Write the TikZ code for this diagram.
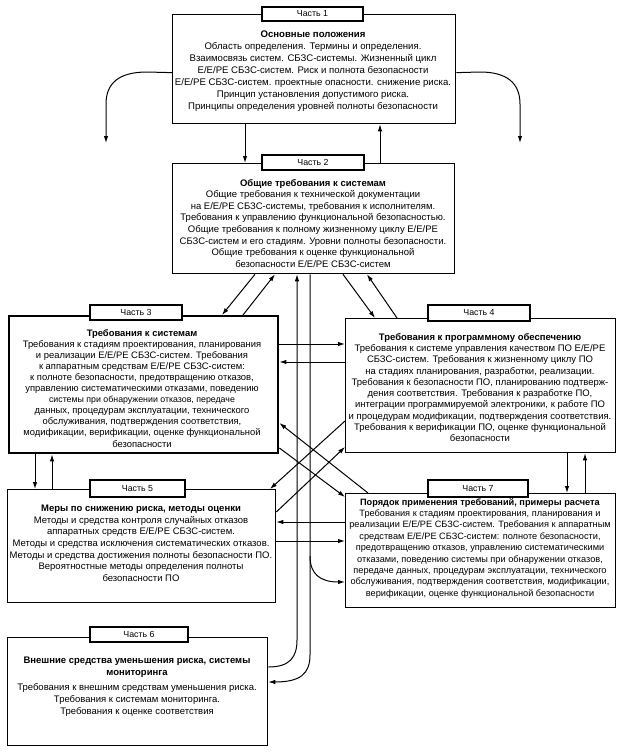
\documentclass[tikz,border=0pt]{standalone}
\usepackage{fontspec}
\setmainfont{Liberation Sans}
\usetikzlibrary{arrows.meta}
\begin{document}
\begin{tikzpicture}[x=1pt,y=-1pt,
  part/.style={draw, line width=1.3pt, anchor=north west, inner sep=0pt},
  lbl/.style={draw, fill=white, line width=1.3pt, inner sep=0pt, font=\fontsize{8.8}{9}\selectfont},
  txt/.style={align=center, font=\fontsize{9.5}{11.5}\selectfont, inner sep=0pt, anchor=north},
  arr/.style={-{Latex[length=7pt,width=4.5pt]}, line width=1pt},
  ln/.style={line width=1pt}]
\useasboundingbox (0,0) rectangle (620,755);
% boxes
\node[part, minimum width=283pt, minimum height=109pt] (p1) at (172,14) {};
\node[part, minimum width=282pt, minimum height=110pt] (p2) at (172,163) {};
\node[part, line width=2.4pt, minimum width=269pt, minimum height=137pt] (p3) at (8,315) {};
\node[part, minimum width=270pt, minimum height=134pt] (p4) at (345,318) {};
\node[part, minimum width=268pt, minimum height=113pt] (p5) at (7,489) {};
\node[part, minimum width=270pt, minimum height=114pt] (p7) at (345,493) {};
\node[part, minimum width=260pt, minimum height=108pt] (p6) at (7,637) {};
% labels
\node[lbl, minimum width=101pt, minimum height=14pt] (l1) at (312.5,14) {Часть 1};
\node[lbl, minimum width=102pt, minimum height=15pt] (l2) at (313,162.5) {Часть 2};
\node[lbl, minimum width=92pt, minimum height=15pt] (l3) at (136,312.5) {Часть 3};
\node[lbl, minimum width=102pt, minimum height=16pt] (l4) at (479,313) {Часть 4};
\node[lbl, minimum width=95pt, minimum height=17pt] (l5) at (137.5,488.5) {Часть 5};
\node[lbl, minimum width=98pt, minimum height=15pt] (l6) at (139,634.5) {Часть 6};
\node[lbl, minimum width=100pt, minimum height=17pt] (l7) at (478,488.5) {Часть 7};
% texts
\node[txt, font=\fontsize{9.6}{12}\selectfont] (t1) at (313,31) {\textbf{Основные положения}\\
Область определения. Термины и определения.\\
Взаимосвязь систем. СБЗС-системы. Жизненный цикл\\
E/E/PE СБЗС-систем. Риск и полнота безопасности\\
E/E/PE СБЗС-систем. проектные опасности. снижение риска.\\
Принцип установления допустимого риска.\\
Принципы определения уровней полноты безопасности};
\node[txt, font=\fontsize{9.5}{11.6}\selectfont] (t2) at (313,179) {\textbf{Общие требования к системам}\\
Общие требования к технической документации\\
на E/E/PE СБЗС-системы, требования к исполнителям.\\
Требования к управлению функциональной безопасностью.\\
Общие требования к полному жизненному циклу E/E/PE\\
СБЗС-систем и его стадиям. Уровни полноты безопасности.\\
Общие требования к оценке функциональной\\
безопасности E/E/PE СБЗС-систем};
\node[txt, font=\fontsize{9.4}{11.1}\selectfont] (t3) at (142,329) {\textbf{Требования к системам}\\
Требования к стадиям проектирования, планирования\\
и реализации E/E/PE СБЗС-систем. Требования\\
к аппаратным средствам E/E/PE СБЗС-систем:\\
к полноте безопасности, предотвращению отказов,\\
управлению систематическими отказами, поведению\\
{\fontsize{8.8}{11.1}\selectfont системы при обнаружении отказов, передаче}\\
данных, процедурам эксплуатации, технического\\
обслуживания, подтверждения соответствия,\\
модификации, верификации, оценке функциональной\\
безопасности};
\node[txt, font=\fontsize{9.5}{11.3}\selectfont] (t4) at (480,333) {\textbf{Требования к программному обеспечению}\\
Требования к системе управления качеством ПО E/E/PE\\
СБЗС-систем. Требования к жизненному циклу ПО\\
на стадиях планирования, разработки, реализации.\\
Требования к безопасности ПО, планированию подтверж-\\
дения соответствия. Требования к разработке ПО,\\
интеграции программируемой электроники, к работе ПО\\
и процедурам модификации, подтверждения соответствия.\\
Требования к верификации ПО, оценке функциональной\\
безопасности};
\node[txt, font=\fontsize{9.5}{11.6}\selectfont] (t5) at (141,505) {\textbf{Меры по снижению риска, методы оценки}\\
Методы и средства контроля случайных отказов\\
аппаратных средств E/E/PE СБЗС-систем.\\
Методы и средства исключения систематических отказов.\\
Методы и средства достижения полноты безопасности ПО.\\
Вероятностные методы определения полноты\\
безопасности ПО};
\node[txt, font=\fontsize{9.2}{11.4}\selectfont] (t7) at (480,498) {\textbf{Порядок применения требований, примеры расчета}\\
Требования к стадиям проектирования, планирования и\\
реализации E/E/PE СБЗС-систем. Требования к аппаратным\\
средствам E/E/PE СБЗС-систем: полноте безопасности,\\
предотвращению отказов, управлению систематическими\\
отказами, поведению системы при обнаружении отказов,\\
передаче данных, процедурам эксплуатации, технического\\
обслуживания, подтверждения соответствия, модификации,\\
верификации, оценке функциональной безопасности};
\node[txt, font=\fontsize{9.5}{12}\selectfont] (t6) at (137,657) {\textbf{Внешние средства уменьшения риска, системы}\\
\textbf{мониторинга}\\[3pt]
Требования к внешним средствам уменьшения риска.\\
Требования к системам мониторинга.\\
Требования к оценке соответствия};
% column / row coordinates
\foreach \n/\v in {35/35,52/52,222/222,243/243,245/245,255/255,270/270,275/275,297/297,310/310,343/343,367/367,368/368,375/375,380/380,397/397,567/567,585/585}
  \coordinate (c\n) at (\v,0);
\foreach \n/\v in {344/344,362/362,421/421,423/423,447/447,448/448,497/497,512/512,522/522,541/541,582/582,667/667,682/682}
  \coordinate (r\n) at (0,\v);
\coordinate (lend) at (106,143);
\coordinate (rend) at (520,143);
\coordinate (br) at (310,556);
% part 1 side arrows
\draw[arr] ([yshift=-3.5pt]p1.west) -- (147,72) .. controls (118,72) and (106,84) .. (106,104) -- (lend);
\draw[arr] ([yshift=-3.5pt]p1.east) -- (480,72) .. controls (508,72) and (520,84) .. (520,104) -- (rend);
% 1 <-> 2
\draw[arr] (p1.south -| c245) -- (p2.north -| c245);
\draw[arr] (p2.north -| c380) -- (p1.south -| c380);
% 2 <-> 3, 2 <-> 4
\draw[arr] (p2.south -| c255) -- (p3.north -| c222);
\draw[arr] (p3.north -| c243) -- (p2.south -| c275);
\draw[arr] (p2.south -| c343) -- (p4.north -| c375);
\draw[arr] (p4.north -| c397) -- (p2.south -| c367);
% long verticals
\draw[arr] (p6.east |- r667) .. controls (290,667) and (297,657) .. (297,640) -- (p2.south -| c297);
\draw[arr] (p2.south -| c310) -- (310,655) .. controls (310,674) and (300,682) .. (p6.east |- r682);
\draw[arr] (br) .. controls (310,574) and (320,582) .. (p7.west |- r582);
% 3 <-> 4, 5 <-> 7
\draw[arr] (p3.east |- r344) -- (p4.west |- r344);
\draw[arr] (p4.west |- r362) -- (p3.east |- r362);
\draw[arr] (p7.west |- r522) -- (p5.east |- r522);
\draw[arr] (p5.east |- r541) -- (p7.west |- r541);
% 3 <-> 5, 4 <-> 7
\draw[arr] (p3.south -| c35) -- (p5.north -| c35);
\draw[arr] (p5.north -| c52) -- (p3.south -| c52);
\draw[arr] (p4.south -| c567) -- (p7.north -| c567);
\draw[arr] (p7.north -| c585) -- (p4.south -| c585);
% crossing diagonals
\draw[arr] (p7.north -| c368) -- (p3.east |- r423);
\draw[arr] (p3.east |- r448) -- (p7.west |- r497);
\draw[arr] (p4.west |- r421) -- (p5.north -| c270);
\draw[arr] (p5.east |- r512) -- (p4.west |- r447);
\end{tikzpicture}
\end{document}
